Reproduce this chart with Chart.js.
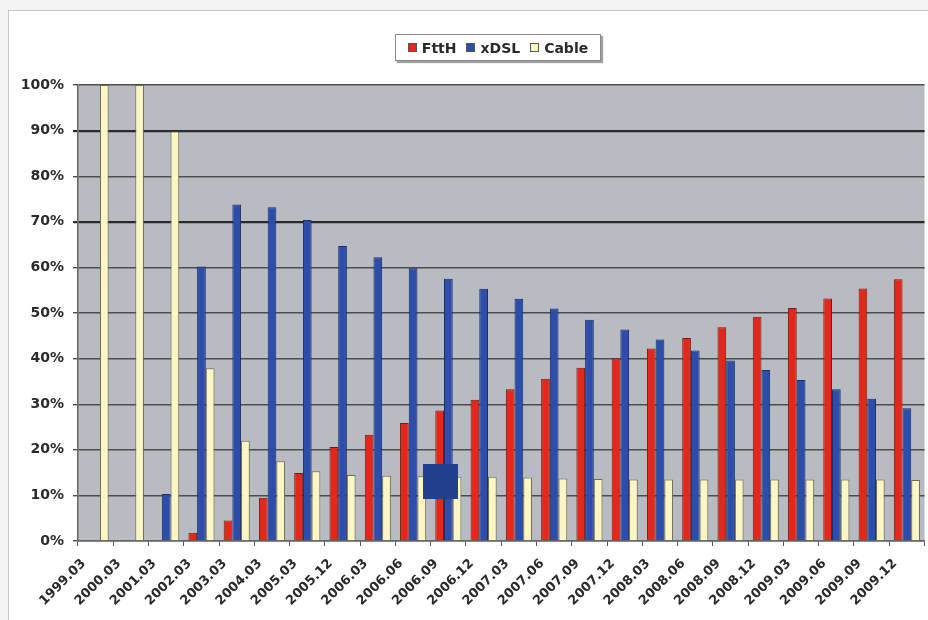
<!DOCTYPE html>
<html>
<head>
<meta charset="utf-8">
<script src="https://cdn.jsdelivr.net/npm/chart.js@4.4.1/dist/chart.umd.min.js"></script>
<style>
  html, body { margin: 0; padding: 0; background: #f3f3f3; }
  #page { position: relative; width: 928px; height: 620px; overflow: hidden; background: #f3f3f3; }
  #frame { position: absolute; left: 8px; top: 10px; right: -2px; bottom: -2px; background: #ffffff;
           border-left: 1px solid #c6c6c6; border-top: 1px solid #c6c6c6; }
  #chart { position: absolute; left: 0; top: 0; }
  #legend { position: absolute; left: 395px; top: 34px; width: 206px; height: 27px; box-sizing: border-box;
            background: #ffffff; border: 1px solid #8a8a8a; box-shadow: 2px 2px 1px #a0a0a0;
            display: flex; align-items: center; justify-content: center; gap: 10px;
            font: bold 14px "DejaVu Sans", sans-serif; color: #2a2a2a; }
  #legend span.item { display: flex; align-items: center; gap: 5px; }
  #legend i { display: inline-block; width: 7px; height: 7px; border: 1px solid #555; }
  #badge { position: absolute; left: 423px; top: 464px; width: 35px; height: 35px; background: #253f8f; }
</style>
</head>
<body>
<div id="page">
  <div id="frame"></div>
  <canvas id="chart" width="928" height="620"></canvas>
  <div id="legend"></div>
  <div id="badge"></div>
</div>
<script>
// Broadband subscriber share by access technology (percent of total)
const categories = [
  "1999.03", "2000.03", "2001.03", "2002.03", "2003.03", "2004.03", "2005.03", "2005.12",
  "2006.03", "2006.06", "2006.09", "2006.12", "2007.03", "2007.06", "2007.09", "2007.12",
  "2008.03", "2008.06", "2008.09", "2008.12", "2009.03", "2009.06", "2009.09", "2009.12"
];
const ftthShare = [
  null, null, null, 1.8, 4.5, 9.5, 14.9, 20.6,
  23.3, 25.9, 28.6, 31.0, 33.3, 35.6, 38.0, 40.0,
  42.2, 44.5, 46.9, 49.2, 51.1, 53.2, 55.4, 57.4
];
const xdslShare = [
  null, null, 10.3, 60.2, 73.8, 73.2, 70.4, 64.7,
  62.2, 59.8, 57.5, 55.3, 53.1, 51.0, 48.5, 46.4,
  44.2, 41.8, 39.6, 37.5, 35.3, 33.3, 31.2, 29.1
];
const cableShare = [
  100, 100, 89.8, 37.9, 22.0, 17.5, 15.3, 14.5,
  14.3, 14.2, 14.1, 14.1, 13.9, 13.7, 13.6, 13.5,
  13.5, 13.5, 13.5, 13.5, 13.5, 13.5, 13.5, 13.4
];
const seriesNames = ["FttH", "xDSL", "Cable"];
const percentTicks = [0, 10, 20, 30, 40, 50, 60, 70, 80, 90, 100];

const fills = ["#e3281b", "#2d4dab", "#fbf6c3"];
const edges = ["#7a1a12", "#1b2c66", "#6e6c52"];

// HTML legend with boxed border like the spreadsheet original
const legendEl = document.getElementById("legend");
seriesNames.forEach((name, i) => {
  const item = document.createElement("span");
  item.className = "item";
  const sw = document.createElement("i");
  sw.style.background = fills[i];
  item.appendChild(sw);
  item.appendChild(document.createTextNode(name));
  legendEl.appendChild(item);
});

// Grey plot background
const plotBackground = {
  id: "plotBackground",
  beforeDraw(chart) {
    const { ctx, chartArea: a } = chart;
    ctx.save();
    ctx.fillStyle = "#b8bbc2";
    ctx.fillRect(a.left, a.top, a.right - a.left, a.bottom - a.top);
    ctx.restore();
  }
};

const tickFont = { family: "'DejaVu Sans', sans-serif", weight: "bold", size: 13 };

new Chart(document.getElementById("chart"), {
  type: "bar",
  data: {
    labels: categories,
    datasets: [ftthShare, xdslShare, cableShare].map((vals, i) => ({
      label: seriesNames[i],
      data: vals,
      backgroundColor: fills[i],
      borderColor: edges[i],
      borderWidth: 1,
      categoryPercentage: 0.74,
      barPercentage: 1.0
    }))
  },
  options: {
    responsive: false,
    animation: false,
    devicePixelRatio: 1,
    layout: { padding: { left: 8, right: 3, top: 85, bottom: 0 } },
    plugins: { legend: { display: false }, tooltip: { enabled: false } },
    scales: {
      x: {
        offset: true,
        afterFit(scale) { scale.height = 79; },
        grid: { offset: true, drawOnChartArea: false, drawTicks: true, tickLength: 5, color: "#555", lineWidth: 1 },
        border: { display: true, color: "#666", width: 1.5 },
        ticks: { autoSkip: false, minRotation: 45, maxRotation: 45, padding: 10, labelOffset: -12,
                 color: "#2a2a2a", font: tickFont }
      },
      y: {
        min: 0,
        max: 100,
        afterFit(scale) { scale.width = 70; },
        afterBuildTicks(scale) { scale.ticks = percentTicks.map(v => ({ value: v })); },
        grid: {
          drawTicks: true,
          tickLength: 5,
          color: c => (c.tick && (c.tick.value === 90 || c.tick.value === 70)) ? "#2a2a2a" : "#4d4d4d",
          lineWidth: c => (c.tick && (c.tick.value === 90 || c.tick.value === 70)) ? 2.2 : 1.4
        },
        border: { display: true, color: "#666", width: 1.5 },
        ticks: { padding: 9, color: "#2a2a2a", font: { family: "'DejaVu Sans', sans-serif", weight: "bold", size: 14 },
                 callback: v => v + "%" }
      }
    }
  },
  plugins: [plotBackground]
});
</script>
</body>
</html>
